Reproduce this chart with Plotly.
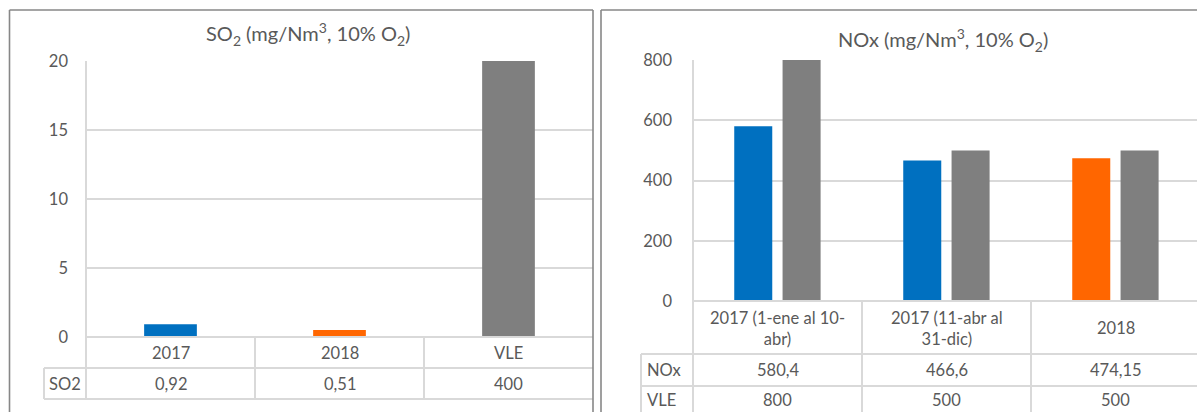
import plotly.graph_objects as go

# ---------------- data ----------------
so2_categories = ["2017", "2018", "VLE"]
so2_values = [0.92, 0.51, 400]
so2_colors = ["#0070C0", "#FF6600", "#7F7F7F"]

nox_categories = ["2017 (1-ene al 10-abr)", "2017 (11-abr al 31-dic)", "2018"]
nox_labels = ["2017 (1-ene al 10-<br>abr)", "2017 (11-abr al<br>31-dic)", "2018"]
nox_values = [580.4, 466.6, 474.15]
nox_colors = ["#0070C0", "#0070C0", "#FF6600"]
vle_values = [800, 500, 500]
vle_color = "#7F7F7F"

so2_ticks = [0, 5, 10, 15, 20]
nox_ticks = [0, 200, 400, 600, 800]

# ---------------- layout helpers ----------------
W, H = 1197, 412
FONT = "Lato"
TXT = "#595959"
GRID = "#D9D9D9"
BORDER = "#878787"


def px(x):
    return x / W


def py(y):
    return 1 - y / H


def fmt(v):
    return f"{v:g}".replace(".", ",")


CAT_W = 169.0
L_X0, L_Y0, L_Y1 = 86, 61, 337
R_X0, R_Y0, R_Y1 = 693, 60, 301
r_span = (W - R_X0) / CAT_W

fig = go.Figure()

fig.add_trace(go.Bar(
    x=list(range(len(so2_categories))), y=so2_values,
    marker=dict(color=so2_colors, line=dict(width=0)),
    width=0.312, xaxis="x", yaxis="y", hoverinfo="skip", showlegend=False,
))
fig.add_trace(go.Bar(
    x=list(range(len(nox_categories))), y=nox_values,
    marker=dict(color=nox_colors, line=dict(width=0)),
    width=0.225, offset=-0.256, xaxis="x2", yaxis="y2", hoverinfo="skip", showlegend=False,
))
fig.add_trace(go.Bar(
    x=list(range(len(nox_categories))), y=vle_values,
    marker=dict(color=vle_color, line=dict(width=0)),
    width=0.225, offset=0.03, xaxis="x2", yaxis="y2", hoverinfo="skip", showlegend=False,
))

tickfont = dict(family=FONT, size=16.5, color=TXT)

fig.update_layout(
    width=W, height=H, margin=dict(l=0, r=0, t=0, b=0, pad=0, autoexpand=False),
    paper_bgcolor="white", plot_bgcolor="white",
    barmode="overlay",
    xaxis=dict(domain=[px(L_X0), px(L_X0 + 3 * CAT_W)], range=[-0.5, 2.5], type="linear",
               showticklabels=False, showgrid=False, zeroline=False, showline=False,
               fixedrange=True, automargin=False),
    yaxis=dict(domain=[py(L_Y1), py(L_Y0)], range=[0, 20], tickvals=so2_ticks,
               showgrid=True, gridcolor=GRID, gridwidth=2, zeroline=False, showline=False,
               tickfont=tickfont, ticks="", ticklabelstandoff=17, fixedrange=True, automargin=False),
    xaxis2=dict(domain=[px(R_X0), 1.0], range=[-0.5, -0.5 + r_span], type="linear",
                showticklabels=False, showgrid=False, zeroline=False, showline=False,
                fixedrange=True, automargin=False),
    yaxis2=dict(domain=[py(R_Y1), py(R_Y0)], range=[0, 800], tickvals=nox_ticks, anchor="x2",
                showgrid=True, gridcolor=GRID, gridwidth=2, zeroline=False, showline=False,
                tickfont=tickfont, ticks="", ticklabelstandoff=20, fixedrange=True, automargin=False),
)

shapes = []


def line(x0, y0, x1, y1, color=GRID, width=2):
    shapes.append(dict(type="line", xref="paper", yref="paper",
                       x0=px(x0), y0=py(y0), x1=px(x1), y1=py(y1),
                       line=dict(color=color, width=width)))


# ----- left data table -----
L_XR = L_X0 + 3 * CAT_W
line(L_X0, L_Y1, L_XR, L_Y1)
line(44, 368, L_XR, 368)
line(44, 399, L_XR, 399)
line(44, 368, 44, 399)
line(L_X0, L_Y0, L_X0, 399)
for k in (1, 2):
    line(L_X0 + k * CAT_W, L_Y1, L_X0 + k * CAT_W, 399)

# ----- right data table -----
line(R_X0, R_Y1, W, R_Y1)
line(641, 354, W, 354)
line(641, 386, W, 386)
line(641, 354, 641, H)
line(R_X0, R_Y0, R_X0, H)
for k in (1, 2):
    line(R_X0 + k * CAT_W, R_Y1, R_X0 + k * CAT_W, H)

# ----- panel borders -----
line(9.5, 10, 593, 10, BORDER, 1.6)
line(9.5, 10, 9.5, H, BORDER, 1.6)
line(593, 10, 593, H, BORDER, 1.6)
line(601, 10, W, 10, BORDER, 1.6)
line(601, 10, 601, H, BORDER, 1.6)

fig.update_layout(shapes=shapes)

ann = []
tf = dict(family=FONT, size=16.5, color=TXT)


def note(text, x, y, xref="paper", font=tf, xanchor="center"):
    ann.append(dict(text=text, xref=xref, yref="paper", x=x, y=y, showarrow=False,
                    xanchor=xanchor, yanchor="middle", font=font))


# titles
tfont = dict(family=FONT, size=20, color=TXT)
note("SO<sub>2</sub> (mg/Nm<sup>3</sup>, 10% O<sub>2</sub>)", px(308), py(34), font=tfont)
note("NOx (mg/Nm<sup>3</sup>, 10% O<sub>2</sub>)", px(943), py(40), font=tfont)

# left table text
for i, (c, v) in enumerate(zip(so2_categories, so2_values)):
    note(c, i, py(353), xref="x")
    note(fmt(v), i, py(384), xref="x")
note("SO2", px(65), py(384))

# right table text
for i, (lab, v, w) in enumerate(zip(nox_labels, nox_values, vle_values)):
    note(lab, i, py(328), xref="x2")
    note(fmt(v), i, py(370), xref="x2")
    note(fmt(w), i, py(400), xref="x2")
note("NOx", px(645), py(370), xanchor="left")
note("VLE", px(645), py(400), xanchor="left")

fig.update_layout(annotations=ann)

fig.write_html("out.html")
